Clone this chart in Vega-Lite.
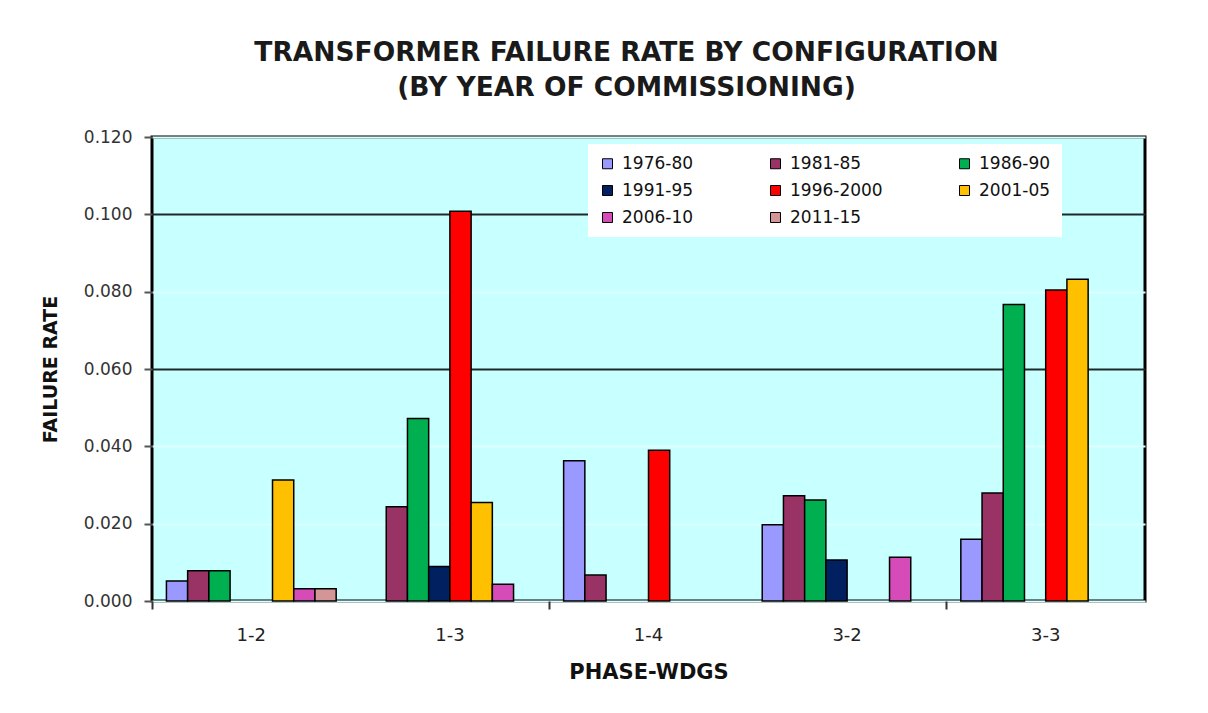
{
  "$schema": "https://vega.github.io/schema/vega-lite/v6.json",
  "width": 993,
  "height": 464,
  "autosize": {"type": "none"},
  "padding": {"left": 152, "top": 137, "right": 63, "bottom": 112},
  "background": "white",
  "title": {
    "text": ["TRANSFORMER FAILURE RATE  BY CONFIGURATION", "(BY YEAR OF COMMISSIONING)"],
    "font": "DejaVu Sans",
    "fontSize": 26.5,
    "fontWeight": "bold",
    "color": "#1a1a1a",
    "anchor": "middle",
    "frame": "group",
    "dx": -22,
    "offset": 27,
    "lineHeight": 35
  },
  "data": {
    "values": [
      {"phase": "1-2", "period": "1976-80", "rate": 0.0052},
      {"phase": "1-2", "period": "1981-85", "rate": 0.0078},
      {"phase": "1-2", "period": "1986-90", "rate": 0.0078},
      {"phase": "1-2", "period": "2001-05", "rate": 0.0313},
      {"phase": "1-2", "period": "2006-10", "rate": 0.0032},
      {"phase": "1-2", "period": "2011-15", "rate": 0.0032},
      {"phase": "1-3", "period": "1981-85", "rate": 0.0244},
      {"phase": "1-3", "period": "1986-90", "rate": 0.0472},
      {"phase": "1-3", "period": "1991-95", "rate": 0.0089},
      {"phase": "1-3", "period": "1996-2000", "rate": 0.1008},
      {"phase": "1-3", "period": "2001-05", "rate": 0.0255},
      {"phase": "1-3", "period": "2006-10", "rate": 0.0043},
      {"phase": "1-4", "period": "1976-80", "rate": 0.0363},
      {"phase": "1-4", "period": "1981-85", "rate": 0.0067},
      {"phase": "1-4", "period": "1996-2000", "rate": 0.039},
      {"phase": "3-2", "period": "1976-80", "rate": 0.0197},
      {"phase": "3-2", "period": "1981-85", "rate": 0.0272},
      {"phase": "3-2", "period": "1986-90", "rate": 0.0261},
      {"phase": "3-2", "period": "1991-95", "rate": 0.0106},
      {"phase": "3-2", "period": "2006-10", "rate": 0.0113},
      {"phase": "3-3", "period": "1976-80", "rate": 0.016},
      {"phase": "3-3", "period": "1981-85", "rate": 0.0279},
      {"phase": "3-3", "period": "1986-90", "rate": 0.0767},
      {"phase": "3-3", "period": "1996-2000", "rate": 0.0804},
      {"phase": "3-3", "period": "2001-05", "rate": 0.0832}
    ]
  },
  "mark": {"type": "bar", "stroke": "black", "strokeWidth": 1.5},
  "encoding": {
    "x": {
      "field": "phase",
      "type": "nominal",
      "sort": ["1-2", "1-3", "1-4", "3-2", "3-3"],
      "scale": {"domain": ["1-2", "1-3", "1-4", "3-2", "3-3"], "paddingInner": 0, "paddingOuter": 0},
      "axis": {
        "title": "PHASE-WDGS",
        "titleFont": "DejaVu Sans",
        "titleFontSize": 21,
        "titleFontWeight": "bold",
        "titleColor": "#111",
        "titlePadding": 17,
        "labelFont": "DejaVu Sans",
        "labelFontSize": 18,
        "labelColor": "#222",
        "labelAngle": 0,
        "bandPosition": 0,
        "labelPadding": 17,
        "tickSize": 8,
        "tickWidth": 2,
        "tickColor": {"condition": {"test": "indexof(['1-3','3-2'], datum.value) >= 0", "value": "transparent"}, "value": "#333"},
        "domain": false,
        "grid": false
      }
    },
    "xOffset": {
      "field": "period",
      "type": "nominal",
      "scale": {
        "domain": ["1976-80", "1981-85", "1986-90", "1991-95", "1996-2000", "2001-05", "2006-10", "2011-15"],
        "paddingInner": 0,
        "paddingOuter": 0.68
      }
    },
    "y": {
      "field": "rate",
      "type": "quantitative",
      "scale": {"domain": [0, 0.12]},
      "axis": {
        "values": [0, 0.02, 0.04, 0.06, 0.08, 0.1, 0.12],
        "format": ".3f",
        "title": "FAILURE RATE",
        "titleFont": "DejaVu Sans",
        "titleFontSize": 19,
        "titleFontWeight": "bold",
        "titleColor": "#111",
        "titlePadding": 23,
        "labelFont": "DejaVu Sans",
        "labelFontSize": 17,
        "labelColor": "#333",
        "labelPadding": 12,
        "tickSize": 8,
        "tickWidth": 2,
        "tickColor": "#555",
        "domain": false,
        "grid": true,
        "gridWidth": 2,
        "gridColor": {"condition": {"test": "datum.value == 0.1 || datum.value == 0.06", "value": "#1e2a2a"}, "value": "#dcffff"}
      }
    },
    "color": {
      "field": "period",
      "type": "nominal",
      "scale": {
        "domain": ["1976-80", "1981-85", "1986-90", "1991-95", "1996-2000", "2001-05", "2006-10", "2011-15"],
        "range": ["#9999ff", "#993366", "#00b050", "#002060", "#ff0000", "#ffc000", "#d54cb9", "#d39595"]
      },
      "legend": {
        "title": null,
        "orient": "none",
        "legendX": 436,
        "legendY": 7,
        "direction": "horizontal",
        "columns": 3,
        "gridAlign": "each",
        "columnPadding": 73,
        "rowPadding": 9,
        "padding": 11,
        "fillColor": "white",
        "symbolType": "square",
        "symbolSize": 100,
        "symbolStrokeColor": "black",
        "symbolStrokeWidth": 1,
        "labelFont": "DejaVu Sans",
        "labelFontSize": 17,
        "labelColor": "#111",
        "labelOffset": 6,
        "labelLimit": 300,
        "labelExpr": "indexof(['1986-90','2001-05'], datum.label) >= 0 ? datum.label + '\u00a0\u00a0\u00a0\u00a0\u00a0\u00a0\u00a0\u00a0\u00a0\u00a0\u00a0\u00a0\u00a0\u00a0\u00a0\u00a0' : datum.label"
      }
    }
  },
  "config": {
    "view": {"fill": "#c8ffff", "stroke": "black", "strokeWidth": 3}
  }
}
